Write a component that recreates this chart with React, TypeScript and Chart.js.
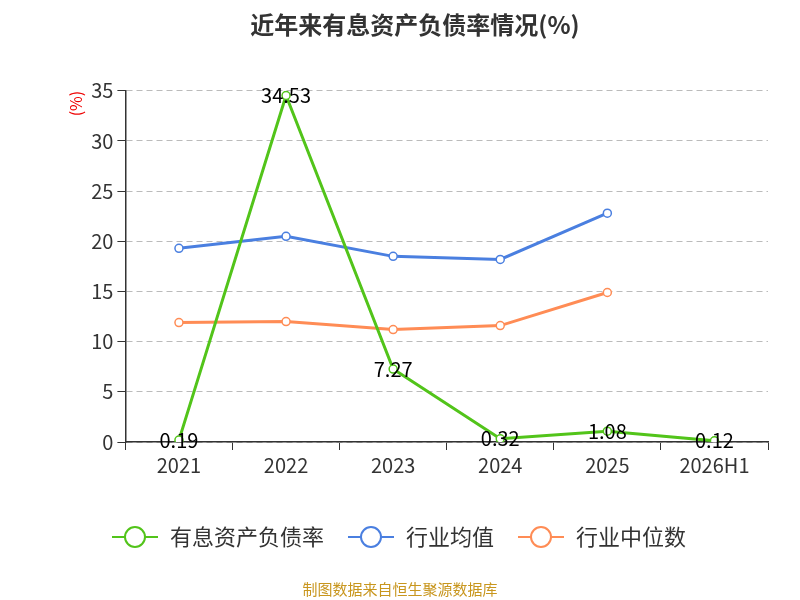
import React, { useEffect, useRef } from "react";
import Chart from "chart.js/auto";

const categories = ["2021", "2022", "2023", "2024", "2025", "2026H1"];
const companyRatio = [0.19, 34.53, 7.27, 0.32, 1.08, 0.12];
const industryMean = [19.3, 20.5, 18.5, 18.2, 22.8, null];
const industryMedian = [11.9, 12.0, 11.2, 11.6, 14.9, null];
const seriesNames = ["有息资产负债率", "行业均值", "行业中位数"];
const colors = ["#52c41a", "#4a7fe0", "#ff8c55"];
const FONT = "'Noto Sans CJK SC', 'Noto Sans', sans-serif";

export default function App() {
  const ref = useRef<HTMLCanvasElement>(null);
  useEffect(() => {
    const labelPlugin = {
      id: "labels",
      afterDatasetsDraw(chart: any) {
        const ctx = chart.ctx;
        const meta = chart.getDatasetMeta(0);
        ctx.save();
        ctx.font = `20px ${FONT}`;
        ctx.fillStyle = "#000";
        ctx.textAlign = "center";
        ctx.textBaseline = "middle";
        meta.data.forEach((p: any, i: number) => {
          ctx.fillText(companyRatio[i].toFixed(2), p.x, p.y);
        });
        ctx.restore();
      },
      afterDraw(chart: any) {
        const ctx = chart.ctx;
        ctx.save();
        ctx.font = `22px ${FONT}`;
        ctx.textBaseline = "middle";
        const y = 537;
        const widths = seriesNames.map((n) => 60 + ctx.measureText(n).width);
        const gap = 22;
        const total = widths.reduce((a, b) => a + b, 0) + gap * 2;
        let x = 400 - total / 2;
        seriesNames.forEach((n, i) => {
          ctx.strokeStyle = colors[i];
          ctx.lineWidth = 2;
          ctx.beginPath();
          ctx.moveTo(x, y);
          ctx.lineTo(x + 46, y);
          ctx.stroke();
          ctx.beginPath();
          ctx.arc(x + 23, y, 10, 0, Math.PI * 2);
          ctx.fillStyle = "#fff";
          ctx.fill();
          ctx.stroke();
          ctx.fillStyle = "#333";
          ctx.fillText(n, x + 58, y);
          x += widths[i] + gap;
        });
        ctx.restore();
      },
    };
    const mk = (i: number, data: any[]) => ({
      label: seriesNames[i],
      data,
      borderColor: colors[i],
      backgroundColor: "#fff",
      borderWidth: 3,
      pointRadius: 4,
      pointBorderWidth: 1.5,
      pointBackgroundColor: "#fff",
      pointBorderColor: colors[i],
      tension: 0,
      spanGaps: false,
    });
    const chart = new Chart(ref.current!, {
      type: "line",
      data: {
        labels: categories,
        datasets: [mk(0, companyRatio), mk(1, industryMean), mk(2, industryMedian)],
      },
      plugins: [labelPlugin],
      options: {
        animation: false,
        responsive: false,
        layout: { padding: { top: 10, left: 62, right: 32, bottom: 120 } },
        plugins: {
          legend: { display: false },
          tooltip: { enabled: false },
          title: {
            display: true,
            text: "近年来有息资产负债率情况(%)",
            font: { size: 24, weight: "bold", family: FONT },
            color: "#333",
            padding: { top: 0, bottom: 52 },
          },
        },
        scales: {
          x: {
            offset: true,
            grid: { display: true, drawOnChartArea: false, tickLength: 8, offset: true, color: "#333" },
            border: { color: "#333", width: 1.5 },
            ticks: { font: { size: 20, family: FONT }, color: "#333" },
          },
          y: {
            min: 0,
            max: 35,
            ticks: { stepSize: 5, font: { size: 20, family: FONT }, color: "#333", padding: 4 },
            grid: { color: "#bbb", tickColor: "#333", tickLength: 8 },
            border: { dash: [6, 4], color: "#333", width: 1.5 },
            title: {
              display: true,
              text: "(%)",
              align: "end",
              color: "#e00",
              font: { size: 16, family: FONT },
              padding: { bottom: 2 },
            },
          },
        },
      },
    });
    return () => chart.destroy();
  }, []);
  return (
    <div style={{ position: "fixed", left: 0, top: 0, width: 800, height: 600, background: "#fff" }}>
      <canvas ref={ref} width={800} height={600} />
      <div
        style={{
          position: "absolute",
          top: 578,
          width: 800,
          textAlign: "center",
          fontFamily: FONT,
          fontSize: 15,
          color: "#c8961e",
        }}
      >
        制图数据来自恒生聚源数据库
      </div>
    </div>
  );
}
